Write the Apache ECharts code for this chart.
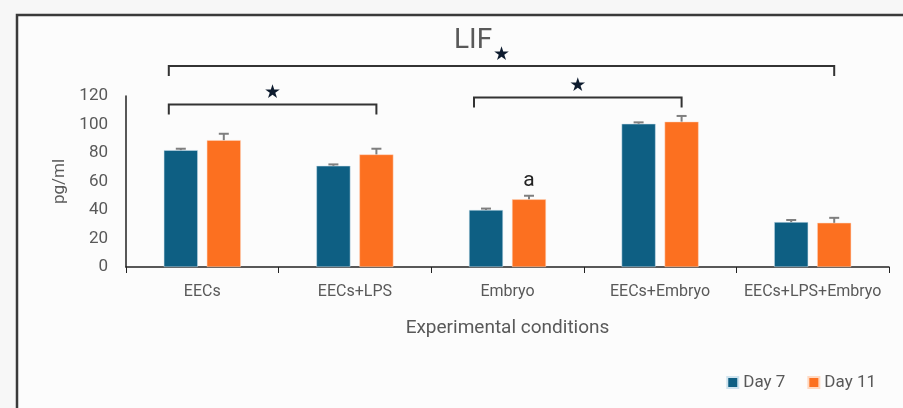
<!DOCTYPE html>
<html><head><meta charset="utf-8">
<script src="https://cdn.jsdelivr.net/npm/echarts@6/dist/echarts.min.js"></script>
<style>html,body{margin:0;padding:0;background:#f7f7f7;}#c{width:903px;height:408px;}</style>
</head><body><div id="c"></div>
<script>
const categories = ['EECs','EECs+LPS','Embryo','EECs+Embryo','EECs+LPS+Embryo'];
const day7 = [82, 71, 40, 100.5, 31.5];
const day7Err = [1, 1, 1, 1, 1.5];
const day11 = [89, 79, 47.5, 102, 31];
const day11Err = [4.5, 4, 2.5, 4, 3.5];
const yTicks = [0, 20, 40, 60, 80, 100, 120];
// significance brackets: [fromCategory, fromSeries(0=Day7,1=Day11), toCategory, toSeries, level]
const brackets = [[0, 0, 4, 1, 141], [0, 0, 1, 1, 114], [2, 0, 3, 1, 119]];
const letterLabels = [[2, 1, 'a']];

const FONT = 'Roboto, sans-serif';
const BLUE = '#0E5F83', ORANGE = '#FC7020';
const chart = echarts.init(document.getElementById('c'));

const barW = 34, barGap = 9;
function seriesOffset(s) { return (s === 0 ? -1 : 1) * (barW + barGap) / 2; }

function errSeries(vals, errs, s) {
  return {
    type: 'custom', z: 5, silent: true,
    data: vals.map((v, i) => [i, v, v + errs[i]]),
    renderItem: (params, api) => {
      const off = seriesOffset(s);
      const p0 = api.coord([api.value(0), api.value(1)]);
      const p1 = api.coord([api.value(0), api.value(2)]);
      const x = p0[0] + off;
      return { type: 'group', children: [
        { type: 'line', shape: { x1: x, y1: p0[1], x2: x, y2: p1[1] }, style: { stroke: '#7f7f7f', lineWidth: 2 } },
        { type: 'line', shape: { x1: x - 5, y1: p1[1], x2: x + 5, y2: p1[1] }, style: { stroke: '#7f7f7f', lineWidth: 2 } }
      ]};
    }
  };
}

chart.setOption({
  backgroundColor: '#f7f7f7',
  animation: false,
  graphic: [
    { type: 'rect', shape: { x: 17, y: 15, width: 900, height: 400 }, style: { fill: '#fcfcfc', stroke: '#3a3a3a', lineWidth: 2.5 }, z: -10 }
  ],
  title: { text: 'LIF', left: 449, top: 22, textStyle: { fontFamily: FONT, fontSize: 28, fontWeight: 'normal', color: '#595959' } },
  legend: {
    data: ['Day 7', 'Day 11'], right: 22, top: 369, itemWidth: 11, itemHeight: 11, itemGap: 22,
    icon: 'rect', textStyle: { fontFamily: FONT, fontSize: 17, color: '#595959' }
  },
  grid: { left: 126, right: 14, top: 96, bottom: 141 },
  xAxis: {
    type: 'category', data: categories,
    name: 'Experimental conditions', nameLocation: 'middle', nameGap: 52,
    nameTextStyle: { fontFamily: FONT, fontSize: 19, color: '#595959' },
    axisLine: { lineStyle: { color: '#222', width: 1.5 } },
    axisTick: { show: true, length: 6, lineStyle: { color: '#222' } },
    axisLabel: { interval: 0, fontFamily: FONT, fontSize: 16, color: '#595959', margin: 17 }
  },
  yAxis: {
    type: 'value', min: yTicks[0], max: yTicks[yTicks.length - 1], interval: 20,
    name: 'pg/ml', nameLocation: 'middle', nameGap: 58, nameRotate: 90,
    nameTextStyle: { fontFamily: FONT, fontSize: 17, color: '#595959' },
    axisLine: { show: true, lineStyle: { color: '#222', width: 1.5 } },
    axisTick: { show: false },
    splitLine: { show: false },
    axisLabel: { fontFamily: FONT, fontSize: 17, color: '#595959', margin: 18 }
  },
  series: [
    { name: 'Day 7', type: 'bar', data: day7, barWidth: barW, barGap: (barGap / barW * 100) + '%', itemStyle: { color: BLUE, borderColor: '#cfe3ee', borderWidth: 0.5 } },
    { name: 'Day 11', type: 'bar', data: day11, barWidth: barW, itemStyle: { color: ORANGE, borderColor: '#ffd9c2', borderWidth: 0.5 } },
    errSeries(day7, day7Err, 0),
    errSeries(day11, day11Err, 1),
    {
      type: 'custom', z: 6, silent: true, clip: false,
      data: brackets,
      renderItem: (params, api) => {
        const a = api.coord([api.value(0), api.value(4)]);
        const b = api.coord([api.value(2), api.value(4)]);
        const x1 = a[0] + seriesOffset(api.value(1)) - 12;
        const x2 = b[0] + seriesOffset(api.value(3));
        const y = a[1];
        return { type: 'group', children: [
          { type: 'polyline', shape: { points: [[x1, y + 10], [x1, y], [x2, y], [x2, y + 10]] }, style: { stroke: '#333', lineWidth: 2, fill: null } },
          { type: 'text', style: { text: '★', x: (x1 + x2) / 2, y: y - 2, align: 'center', verticalAlign: 'bottom', fontSize: 19, fill: '#0d1b2e', fontFamily: 'DejaVu Sans' } }
        ]};
      }
    },
    {
      type: 'custom', z: 6, silent: true, clip: false,
      data: letterLabels.map(l => [l[0], l[1], day11[l[0]] + day11Err[l[0]]]),
      renderItem: (params, api) => {
        const p = api.coord([api.value(0), api.value(2)]);
        return { type: 'text', style: { text: letterLabels[params.dataIndex][2], x: p[0] + seriesOffset(api.value(1)), y: p[1] - 5, align: 'center', verticalAlign: 'bottom', fontSize: 21, fill: '#222', fontFamily: 'Roboto, sans-serif' } };
      }
    }
  ]
});
</script></body></html>
